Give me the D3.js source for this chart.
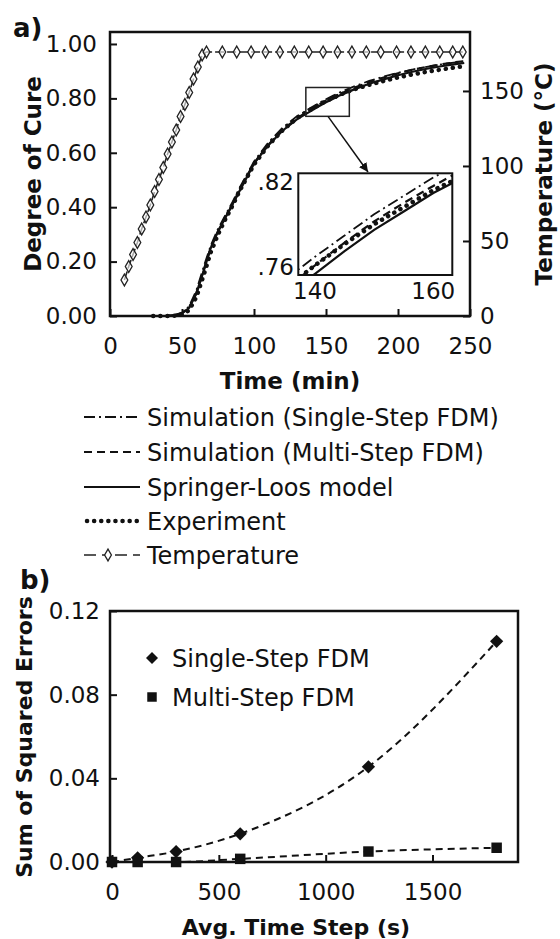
<!DOCTYPE html>
<html>
<meta charset="utf-8">
<style type="text/css">

	body { margin: 0; background: #fff; }

	text {
		font-family: "DejaVu Sans", sans-serif;
		fill: #111;
	}

	.title { font-weight: bold; }

	.frame {
		fill: none;
		stroke: #111;
		stroke-width: 2.5px;
	}

	.tick line { stroke: #111; stroke-width: 2px; }

</style>
<svg width="560" height="939"></svg>
<script src="https://d3js.org/d3.v7.min.js"></script>
<script>
	// panel a: cure curves
	var times = [30, 35, 40, 45, 50, 55, 60, 65, 70, 75, 80, 85, 90, 100, 110, 120, 130, 140, 145, 150, 155, 160, 170, 180, 190, 200, 210, 220, 230, 240, 246];
	var singleStep = [0, 0, 0.001, 0.004, 0.012, 0.036, 0.095, 0.18, 0.26, 0.32, 0.37, 0.418, 0.472, 0.568, 0.638, 0.693, 0.735, 0.767, 0.782, 0.797, 0.81, 0.823, 0.845, 0.864, 0.88, 0.894, 0.906, 0.916, 0.925, 0.932, 0.936];
	var multiStep = [0, 0, 0.001, 0.003, 0.01, 0.032, 0.085, 0.168, 0.252, 0.312, 0.362, 0.408, 0.464, 0.562, 0.63, 0.685, 0.727, 0.761, 0.777, 0.792, 0.805, 0.817, 0.84, 0.86, 0.877, 0.892, 0.905, 0.916, 0.925, 0.933, 0.937];
	var springerLoos = [0, 0, 0.001, 0.003, 0.01, 0.03, 0.082, 0.165, 0.25, 0.31, 0.36, 0.41, 0.46, 0.56, 0.628, 0.682, 0.724, 0.755, 0.771, 0.786, 0.799, 0.812, 0.834, 0.854, 0.87, 0.885, 0.898, 0.909, 0.918, 0.926, 0.93];
	var experiment = [0, 0, 0, 0.001, 0.005, 0.022, 0.07, 0.15, 0.235, 0.3, 0.355, 0.405, 0.46, 0.557, 0.628, 0.684, 0.728, 0.761, 0.776, 0.79, 0.802, 0.814, 0.834, 0.85, 0.864, 0.877, 0.888, 0.898, 0.906, 0.914, 0.918];

	var tempTimes = [10, 13, 16, 19, 22, 25, 28, 31, 34, 37, 40, 43, 46, 49, 52, 55, 58, 61, 64, 67, 78, 88, 98, 108, 118, 128, 138, 148, 158, 168, 178, 188, 199, 209, 219, 229, 238, 245];
	var tempVals = [24, 33, 41, 49, 58, 66, 74, 83, 91, 99, 108, 116, 124, 133, 141, 149, 158, 166, 174, 176, 176, 176, 176, 176, 176, 176, 176, 176, 176, 176, 176, 176, 176, 176, 176, 176, 176, 176];

	var timeTicks = [0, 50, 100, 150, 200, 250];
	var cureTicks = [0, 0.2, 0.4, 0.6, 0.8, 1.0];
	var tempTicks = [0, 50, 100, 150];
	var insetTimeTicks = [140, 160];
	var insetCureTicks = [0.76, 0.82];

	var legendA = ['Simulation (Single-Step FDM)', 'Simulation (Multi-Step FDM)', 'Springer-Loos model', 'Experiment', 'Temperature'];

	// panel b: errors
	var steps = [0, 120, 300, 600, 1200, 1800];
	var errSingle = [0, 0.002, 0.005, 0.0135, 0.0455, 0.1055];
	var errMulti = [0, 0, 0, 0.0015, 0.005, 0.0068];
	var stepTicks = [0, 500, 1000, 1500];
	var errTicks = [0, 0.04, 0.08, 0.12];
	var legendB = ['Single-Step FDM', 'Multi-Step FDM'];

	var svg = d3.select('svg');

	var curves = [
		{ vals: singleStep, dash: '11 4 2 4', w: 1.8, cap: 'butt' },
		{ vals: multiStep, dash: '8 5', w: 2.2, cap: 'butt' },
		{ vals: springerLoos, dash: null, w: 2.2, cap: 'butt' },
		{ vals: experiment, dash: '0.1 7', w: 4.5, cap: 'round' }
	];

	// ---------- panel a ----------
	var xa = d3.scaleLinear().domain([0, 250]).range([110, 470]);
	var ya = d3.scaleLinear().domain([0, 1.044]).range([316, 32]);
	var yt = d3.scaleLinear().domain([0, 189.3]).range([316, 32]);

	var ga = svg.append('g');

	ga.append('g')
		.attr('transform', 'translate(0,316)')
		.call(d3.axisBottom(xa).tickValues(timeTicks).tickSizeInner(-7).tickSizeOuter(0).tickPadding(22))
		.call(styleAxis);
	ga.append('g')
		.attr('transform', 'translate(110,0)')
		.call(d3.axisLeft(ya).tickValues(cureTicks).tickFormat(d3.format('.2f')).tickSizeInner(-7).tickSizeOuter(0).tickPadding(13))
		.call(styleAxis);
	ga.append('g')
		.attr('transform', 'translate(470,0)')
		.call(d3.axisRight(yt).tickValues(tempTicks).tickSizeInner(-7).tickSizeOuter(0).tickPadding(10))
		.call(styleAxis);

	ga.append('rect').attr('class', 'frame')
		.attr('x', 110).attr('y', 32).attr('width', 360).attr('height', 284);

	var lineA = function(vals) {
		return d3.line()
			.x((d, i) => xa(times[i]))
			.y((d) => ya(d))(vals);
	};

	curves.forEach((c) => {
		ga.append('path')
			.attr('d', lineA(c.vals))
			.attr('fill', 'none')
			.attr('stroke', '#111')
			.attr('stroke-width', c.w)
			.attr('stroke-linecap', c.cap)
			.attr('stroke-dasharray', c.dash);
	});

	var tempLine = d3.line()
		.x((d, i) => xa(tempTimes[i]))
		.y((d) => yt(d));
	ga.append('path')
		.attr('d', tempLine(tempVals))
		.attr('fill', 'none')
		.attr('stroke', '#222')
		.attr('stroke-width', 1.6)
		.attr('stroke-dasharray', '9 3');

	var diamond = d3.symbol().type(d3.symbolDiamond).size(40);
	ga.selectAll('.tmark')
		.data(tempVals)
		.enter().append('path')
			.attr('class', 'tmark')
			.attr('d', diamond)
			.attr('transform', (d, i) => 'translate(' + xa(tempTimes[i]) + ',' + yt(d) + ')')
			.attr('fill', '#fff')
			.attr('fill-opacity', 0.6)
			.attr('stroke', '#222')
			.attr('stroke-width', 1.3);

	// zoom box and arrow
	ga.append('rect')
		.attr('x', xa(136)).attr('y', ya(0.84))
		.attr('width', xa(166.2) - xa(136)).attr('height', ya(0.734) - ya(0.84))
		.attr('fill', 'none').attr('stroke', '#222').attr('stroke-width', 1.5);

	svg.append('defs').append('marker')
		.attr('id', 'arrowb')
		.attr('viewBox', '0 0 10 10')
		.attr('refX', 10).attr('refY', 5)
		.attr('markerWidth', 9).attr('markerHeight', 9)
		.attr('orient', 'auto')
		.attr('markerUnits', 'userSpaceOnUse')
		.append('path').attr('d', 'M0,0L10,5L0,10z').attr('fill', '#111');

	ga.append('line')
		.attr('x1', 328).attr('y1', ya(0.734))
		.attr('x2', 368).attr('y2', 172)
		.attr('stroke', '#111').attr('stroke-width', 1.5)
		.attr('marker-end', 'url(#arrowb)');

	// inset
	var ix = d3.scaleLinear().domain([140, 160]).range([315, 433.3]);
	var iy = d3.scaleLinear().domain([0.76, 0.82]).range([266.7, 181.7]);
	var ib = { x0: 298.3, x1: 452.3, y0: 173.3, y1: 275 };

	svg.select('defs').append('clipPath').attr('id', 'insetClip')
		.append('rect').attr('x', ib.x0).attr('y', ib.y0)
		.attr('width', ib.x1 - ib.x0).attr('height', ib.y1 - ib.y0);

	var gi = ga.append('g');
	gi.append('rect')
		.attr('x', ib.x0).attr('y', ib.y0)
		.attr('width', ib.x1 - ib.x0).attr('height', ib.y1 - ib.y0)
		.attr('fill', '#fff');

	var lineI = function(vals) {
		return d3.line()
			.x((d, i) => ix(times[i]))
			.y((d) => iy(d))(vals);
	};
	var gic = gi.append('g').attr('clip-path', 'url(#insetClip)');
	curves.forEach((c) => {
		gic.append('path')
			.attr('d', lineI(c.vals))
			.attr('fill', 'none')
			.attr('stroke', '#111')
			.attr('stroke-width', c.w)
			.attr('stroke-linecap', c.cap)
			.attr('stroke-dasharray', c.dash);
	});
	gi.append('rect')
		.attr('x', ib.x0).attr('y', ib.y0)
		.attr('width', ib.x1 - ib.x0).attr('height', ib.y1 - ib.y0)
		.attr('fill', 'none').attr('stroke', '#111').attr('stroke-width', 2);

	gi.selectAll('.ixl')
		.data(insetTimeTicks)
		.enter().append('text')
			.attr('x', (d) => ix(d))
			.attr('y', 299)
			.attr('text-anchor', 'middle')
			.style('font-size', '23px')
			.text((d) => d);
	gi.selectAll('.iyl')
		.data(insetCureTicks)
		.enter().append('text')
			.attr('x', 294)
			.attr('y', (d) => iy(d))
			.attr('dy', '0.36em')
			.attr('text-anchor', 'end')
			.style('font-size', '23px')
			.text((d) => d3.format('.2f')(d).slice(1));

	// titles
	ga.append('text').attr('class', 'title')
		.attr('x', 13).attr('y', 37)
		.style('font-size', '26px')
		.text('a)');
	ga.append('text').attr('class', 'title')
		.attr('x', 290).attr('y', 389)
		.attr('text-anchor', 'middle')
		.style('font-size', '23px')
		.text('Time (min)');
	ga.append('text').attr('class', 'title')
		.attr('transform', 'translate(33,174) rotate(-90)')
		.attr('dy', '0.36em')
		.attr('text-anchor', 'middle')
		.style('font-size', '23px')
		.text('Degree of Cure');
	ga.append('text').attr('class', 'title')
		.attr('transform', 'translate(544,174) rotate(-90)')
		.attr('dy', '0.36em')
		.attr('text-anchor', 'middle')
		.style('font-size', '23px')
		.text('Temperature (°C)');

	// legend a
	var legRows = [417, 452, 487, 521, 555];
	legendA.forEach((name, i) => {
		var y = legRows[i];
		if (i < 4) {
			var c = curves[i];
			ga.append('line')
				.attr('x1', i === 3 ? 87 : 84).attr('x2', 140)
				.attr('y1', y).attr('y2', y)
				.attr('stroke', '#111')
				.attr('stroke-width', c.w)
				.attr('stroke-linecap', c.cap)
				.attr('stroke-dasharray', c.dash);
		} else {
			ga.append('line')
				.attr('x1', 84).attr('x2', 140)
				.attr('y1', y).attr('y2', y)
				.attr('stroke', '#222').attr('stroke-width', 1.6)
				.attr('stroke-dasharray', '12 6 0 0 8 5');
			ga.append('path')
				.attr('d', diamond)
				.attr('transform', 'translate(108,' + y + ')')
				.attr('fill', '#fff').attr('stroke', '#222').attr('stroke-width', 1.3);
		}
		ga.append('text')
			.attr('x', 147).attr('y', y)
			.attr('dy', '0.36em')
			.style('font-size', '24px')
			.text(name);
	});

	// ---------- panel b ----------
	var xb = d3.scaleLinear().domain([0, 1900]).range([112, 518]);
	var yb = d3.scaleLinear().domain([0, 0.12]).range([862, 611]);

	var gb = svg.append('g');

	gb.append('g')
		.attr('transform', 'translate(0,862)')
		.call(d3.axisBottom(xb).tickValues(stepTicks).tickFormat(d3.format('d')).tickSizeInner(-7).tickSizeOuter(0).tickPadding(22))
		.call(styleAxis);
	gb.append('g')
		.attr('transform', 'translate(110,0)')
		.call(d3.axisLeft(yb).tickValues(errTicks).tickFormat(d3.format('.2f')).tickSizeInner(-7).tickSizeOuter(0).tickPadding(10))
		.call(styleAxis);

	gb.append('rect').attr('class', 'frame')
		.attr('x', 110).attr('y', 611).attr('width', 408).attr('height', 251);

	var lineB = function(vals) {
		return d3.line()
			.curve(d3.curveMonotoneX)
			.x((d, i) => xb(steps[i]))
			.y((d) => yb(d))(vals);
	};
	[errSingle, errMulti].forEach((vals) => {
		gb.append('path')
			.attr('d', lineB(vals))
			.attr('fill', 'none')
			.attr('stroke', '#111')
			.attr('stroke-width', 2)
			.attr('stroke-dasharray', '7 5');
	});

	// diamond = square turned 45 degrees
	var bDiamond = d3.symbol().type(d3.symbolSquare).size(88);
	var bSquare = d3.symbol().type(d3.symbolSquare).size(110);

	gb.selectAll('.ms')
		.data(errSingle)
		.enter().append('path')
			.attr('d', bDiamond)
			.attr('transform', (d, i) => 'translate(' + xb(steps[i]) + ',' + yb(d) + ') rotate(45)')
			.attr('fill', '#111');
	gb.selectAll('.mm')
		.data(errMulti)
		.enter().append('path')
			.attr('d', bSquare)
			.attr('transform', (d, i) => 'translate(' + xb(steps[i]) + ',' + yb(d) + ')')
			.attr('fill', '#111');

	// legend b
	legendB.forEach((name, i) => {
		var y = 658 + i * 39;
		gb.append('path')
			.attr('d', d3.symbol().type(d3.symbolSquare).size(i ? 90 : 72))
			.attr('transform', 'translate(152,' + y + ')' + (i ? '' : ' rotate(45)'))
			.attr('fill', '#111');
		gb.append('text')
			.attr('x', 172).attr('y', y)
			.attr('dy', '0.36em')
			.style('font-size', '24px')
			.text(name);
	});

	gb.append('text').attr('class', 'title')
		.attr('x', 20).attr('y', 589)
		.style('font-size', '26px')
		.text('b)');
	gb.append('text').attr('class', 'title')
		.attr('x', 296).attr('y', 935)
		.attr('text-anchor', 'middle')
		.style('font-size', '22px')
		.text('Avg. Time Step (s)');
	gb.append('text').attr('class', 'title')
		.attr('transform', 'translate(24,737) rotate(-90)')
		.attr('dy', '0.36em')
		.attr('text-anchor', 'middle')
		.style('font-size', '22px')
		.text('Sum of Squared Errors');

	function styleAxis(sel) {
		sel.select('.domain').remove();
		sel.selectAll('text')
			.attr('fill', '#111')
			.style('font-family', '"DejaVu Sans", sans-serif')
			.style('font-size', '23px');
		sel.selectAll('.tick line').attr('stroke', '#111').attr('stroke-width', 2);
	}

</script>
</html>
